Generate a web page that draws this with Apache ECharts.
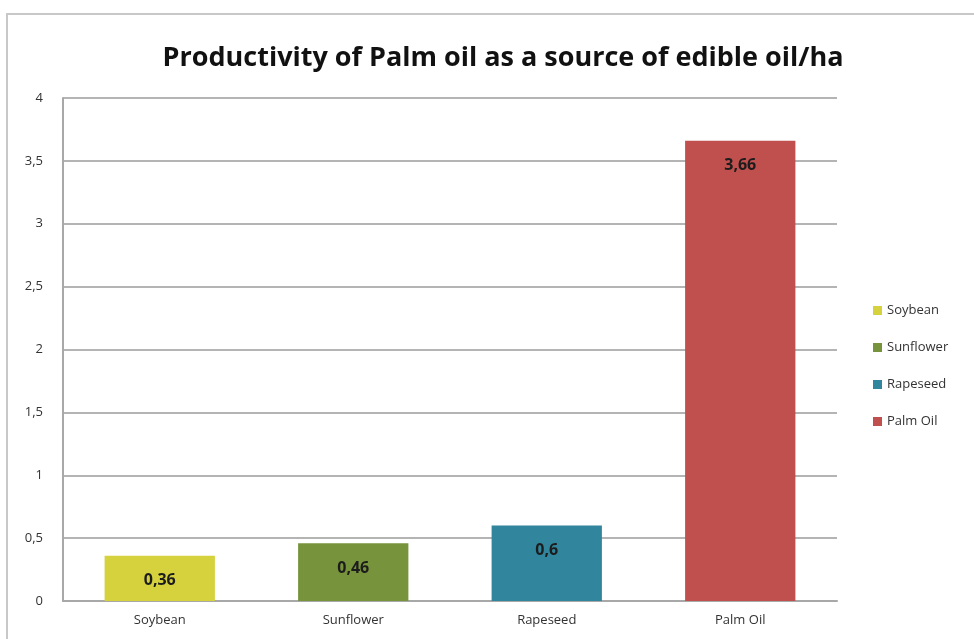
<!DOCTYPE html>
<html><head><meta charset="utf-8">
<script src="https://cdn.jsdelivr.net/npm/echarts@6/dist/echarts.min.js"></script>
<style>html,body{margin:0;padding:0;background:#fff}#c{width:974px;height:639px}</style>
</head><body><div id="c"></div>
<script>
var categories = ['Soybean', 'Sunflower', 'Rapeseed', 'Palm Oil'];
var values = [0.36, 0.46, 0.6, 3.66];
var colors = ['#d5d23d', '#77933c', '#31859c', '#c0504d'];
var titleText = 'Productivity of Palm oil as a source of edible oil/ha';

function fmt(v){ return String(v).replace('.', ','); }

var series = categories.map(function(name, i){
  var d = categories.map(function(_, j){ return j === i ? values[i] : null; });
  return {
    name: name, type: 'bar', stack: 'all', barWidth: '57%',
    data: d,
    itemStyle: { color: colors[i] },
    label: { show: true, position: 'insideTop', distance: 17,
      formatter: function(p){ return fmt(p.value); },
      fontFamily: 'Open Sans', fontWeight: 'bold', fontSize: 16, color: '#1c1c1c' }
  };
});

var chart = echarts.init(document.getElementById('c'));
chart.setOption({
  animation: false,
  title: { text: titleText, left: 498, top: 40, textAlign: 'center',
    textStyle: { fontFamily: 'Open Sans', fontWeight: 'bold', fontSize: 27, color: '#111' } },
  graphic: [{ type: 'rect', shape: { x: 7, y: 14, width: 1000, height: 700 },
    style: { fill: 'none', stroke: '#c8c8c8', lineWidth: 2 }, silent: true }],
  legend: { orient: 'vertical', left: 868, top: 299, itemGap: 24, itemWidth: 9, itemHeight: 9,
    icon: 'rect', textStyle: { fontFamily: 'Open Sans', fontSize: 13, color: '#333' },
    data: categories },
  grid: { left: 63, right: 137, top: 98, bottom: 38 },
  xAxis: { type: 'category', data: categories,
    axisLine: { lineStyle: { color: '#a8a8a8', width: 2 } },
    axisTick: { show: false },
    axisLabel: { fontFamily: 'Open Sans', fontSize: 13, color: '#333', margin: 13 } },
  yAxis: { type: 'value', min: 0, max: 4, interval: 0.5,
    axisLine: { show: true, lineStyle: { color: '#a8a8a8', width: 2 } },
    axisTick: { show: false },
    splitLine: { lineStyle: { color: '#b4b4b4', width: 2 } },
    axisLabel: { fontFamily: 'Open Sans', fontSize: 13, color: '#333', margin: 20,
      formatter: function(v){ return fmt(v); } } },
  series: series
});
</script></body></html>
